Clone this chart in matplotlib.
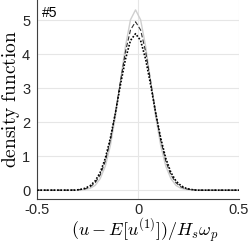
import matplotlib
matplotlib.use("Agg")
import matplotlib.pyplot as plt
import numpy as np

plt.rcParams['mathtext.fontset'] = 'cm'

# x grid (normalised velocity)
x = [-0.5, -0.45, -0.4, -0.35, -0.3125, -0.2875, -0.2625, -0.2375, -0.2125, -0.1875,
     -0.1625, -0.1375, -0.1125, -0.0875, -0.0625, -0.0375, -0.0125, 0.0125, 0.0375,
     0.0625, 0.0875, 0.1125, 0.1375, 0.1625, 0.1875, 0.2125, 0.2375, 0.2625, 0.2875,
     0.3125, 0.35, 0.4, 0.45, 0.5]

# black dotted series
pdf_black = [0, 0, 0, 0, 0.0, 0.02, 0.055, 0.13, 0.27, 0.52, 0.93, 1.52, 2.26, 3.09,
             3.85, 4.40, 4.60, 4.40, 3.85, 3.09, 2.26, 1.52, 0.93, 0.52, 0.27, 0.13,
             0.055, 0.02, 0.0, 0, 0, 0, 0, 0]
# dashed series
pdf_dash = [0, 0, 0, 0, 0.005, 0.015, 0.04, 0.095, 0.22, 0.45, 0.85, 1.46, 2.27, 3.19,
            4.07, 4.71, 4.95, 4.71, 4.07, 3.19, 2.27, 1.46, 0.85, 0.45, 0.22, 0.095,
            0.04, 0.015, 0.005, 0, 0, 0, 0, 0]
# light grey series
pdf_grey = [0, 0, 0, 0, 0.0, 0.005, 0.02, 0.055, 0.14, 0.34, 0.70, 1.30, 2.15, 3.19,
            4.23, 5.01, 5.30, 5.01, 4.23, 3.19, 2.15, 1.30, 0.70, 0.34, 0.14, 0.055,
            0.02, 0.005, 0.0, 0, 0, 0, 0, 0]

xticks = [-0.5, 0, 0.5]
xticklabels = ['-0.5', '0', '0.5']
yticks = [0, 1, 2, 3, 4, 5]

fig = plt.figure(figsize=(2.49, 2.46), dpi=100)
ax = fig.add_axes([0.149, 0.191, 0.811, 0.809])

ax.plot(x, pdf_grey, color='#cfcfcf', lw=1.0, zorder=3)
ax.plot(x, pdf_dash, color='#303030', lw=0.8, ls=(0, (4, 2)), zorder=4)
ax.plot(x, pdf_black, color='black', lw=1.2, ls=(0, (1, 1)), zorder=5)

ax.set_xlim(-0.5, 0.5)
ax.set_ylim(-0.26, 5.59)
ax.set_xticks(xticks)
ax.set_xticklabels(xticklabels)
ax.set_yticks(yticks)
ax.grid(True, color='#e6e6e6', lw=0.8)
ax.set_axisbelow(True)
for s in ['top', 'right']:
    ax.spines[s].set_visible(False)
for s in ['left', 'bottom']:
    ax.spines[s].set_color('#404040')
    ax.spines[s].set_linewidth(0.8)
ax.tick_params(direction='in', length=0, labelsize=10.5, colors='#262626')
ax.tick_params(axis='x', pad=3)
ax.tick_params(axis='y', pad=5)
for lab in ax.get_xticklabels() + ax.get_yticklabels():
    lab.set_family('Liberation Sans')

ax.set_xlabel(r'$(u-E[u^{(1)}])/H_s\omega_p$', fontsize=13, va='center')
ax.xaxis.set_label_coords(0.532, -0.162)
ax.set_ylabel(r'$\mathrm{density\ function}$', fontsize=14, labelpad=0)
ax.text(0.025, 0.937, '#5', transform=ax.transAxes, ha='left', va='center',
        fontsize=10, family='Liberation Sans', color='black')

fig.savefig('out.png', dpi=100)
